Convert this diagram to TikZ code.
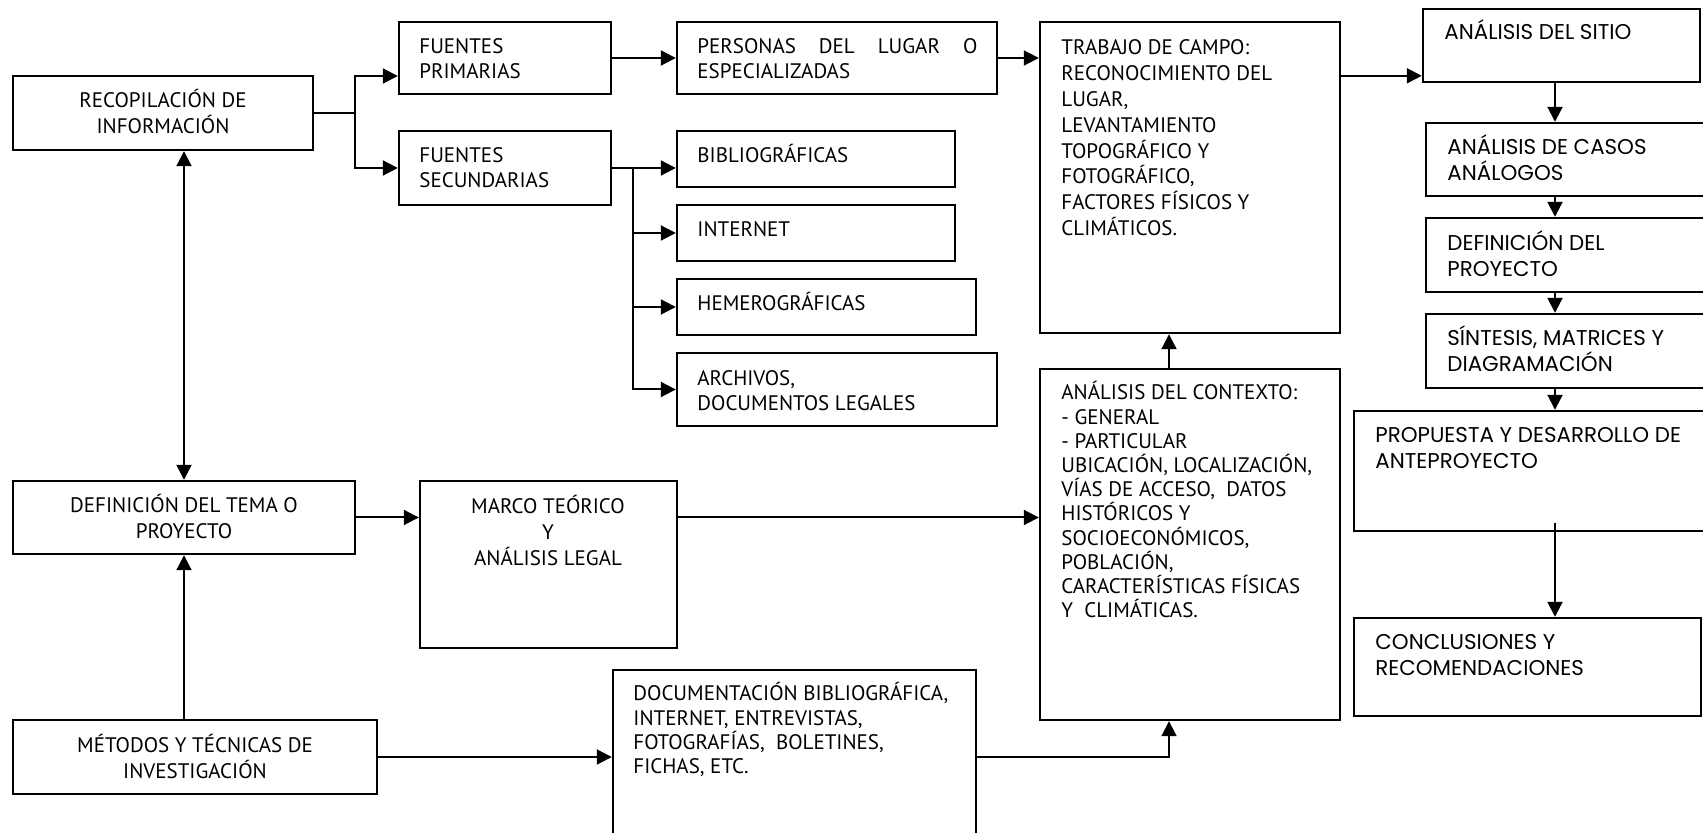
\documentclass[tikz,border=0pt]{standalone}
\usepackage{fontspec}
\setmainfont{PT Sans}
\newfontfamily\geo{Poppins}
\usetikzlibrary{arrows.meta,fit}
\newcommand{\mystrut}{\rule{0pt}{11pt}}
\begin{document}
\begin{tikzpicture}[x=0.5pt,y=-0.5pt,
  box/.style={draw, line width=1.2pt, inner sep=0pt},
  ln/.style={line width=1pt},
  arr/.style={line width=1pt, -{Triangle[length=7.5pt,width=7.5pt]}},
  darr/.style={line width=1pt, {Triangle[length=7.5pt,width=7.5pt]}-{Triangle[length=7.5pt,width=7.5pt]}},
  txt/.style={inner sep=0pt, anchor=north west, align=left, font=\fontsize{10.5}{12.5}\selectfont},
  ctxt/.style={txt, anchor=north, align=center, font=\fontsize{10.5}{13}\selectfont},
  rtxt/.style={txt, font=\geo\fontsize{10.7}{13}\selectfont}]
\useasboundingbox (0,0) rectangle (1703,833);

% left column
\node[box, fit={(13,76) (313,150)}] (recop) {};
\node[ctxt] (recopt) at (163,85.5) {\mystrut RECOPILACIÓN DE\\INFORMACIÓN};
\node[box, fit={(13,481) (355,554)}] (deft) {};
\node[ctxt] (deftt) at (184,490.5) {\mystrut DEFINICIÓN DEL TEMA O\\PROYECTO};
\node[box, fit={(13,720) (377,794)}] (met) {};
\node[ctxt] (mett) at (195,730.5) {\mystrut MÉTODOS Y TÉCNICAS DE\\INVESTIGACIÓN};

% sources
\node[box, fit={(399,22) (611,94)}] (fp) {};
\node[txt] (fpt) at (419,31.5) {\mystrut FUENTES\\PRIMARIAS};
\node[box, fit={(399,131) (611,205)}] (fs) {};
\node[txt] (fst) at (419,140.5) {\mystrut FUENTES\\SECUNDARIAS};

\node[box, fit={(677,22) (997,94)}] (pers) {};
\node[txt] (perst) at (697,31.5) {\hbox to 140pt{\mystrut PERSONAS\hfill DEL\hfill LUGAR\hfill O}\\ESPECIALIZADAS};
\node[box, fit={(677,131) (955,187)}] (bib) {};
\node[txt] (bibt) at (697,140.5) {\mystrut BIBLIOGRÁFICAS};
\node[box, fit={(677,205) (955,261)}] (int) {};
\node[txt] (intt) at (697,214.5) {\mystrut INTERNET};
\node[box, fit={(677,279) (976,335)}] (hem) {};
\node[txt] (hemt) at (697,288.5) {\mystrut HEMEROGRÁFICAS};
\node[box, fit={(677,353) (997,426)}] (arch) {};
\node[txt] (archt) at (697,363.5) {\mystrut ARCHIVOS,\\DOCUMENTOS LEGALES};

% marco
\node[box, fit={(420,481) (677,648)}] (marco) {};
\node[ctxt, font=\fontsize{10.5}{12.8}\selectfont] (marcot) at (548,491.5) {\mystrut MARCO TEÓRICO\\Y\\ANÁLISIS LEGAL};

% documentation
\node[box, fit={(613,670) (976,850)}] (doc) {};
\node[txt, font=\fontsize{10.5}{12.1}\selectfont] (doct) at (633,678.5) {\mystrut DOCUMENTACIÓN BIBLIOGRÁFICA,\\INTERNET, ENTREVISTAS,\\FOTOGRAFÍAS,\ \ BOLETINES,\\FICHAS, ETC.};

% trabajo de campo and contexto
\node[box, fit={(1040,22) (1340,333)}] (trab) {};
\node[txt, font=\fontsize{10.5}{12.9}\selectfont] (trabt) at (1061,32.5) {\mystrut TRABAJO DE CAMPO:\\RECONOCIMIENTO DEL\\LUGAR,\\LEVANTAMIENTO\\TOPOGRÁFICO Y\\FOTOGRÁFICO,\\FACTORES FÍSICOS Y\\CLIMÁTICOS.};
\node[box, fit={(1040,369) (1340,720)}] (cont) {};
\node[txt, font=\fontsize{10.5}{12.1}\selectfont] (contt) at (1061,377.5) {\mystrut ANÁLISIS DEL CONTEXTO:\\- GENERAL\\- PARTICULAR\\UBICACIÓN, LOCALIZACIÓN,\\VÍAS DE ACCESO,\ \ DATOS\\HISTÓRICOS Y\\SOCIOECONÓMICOS,\\POBLACIÓN,\\CARACTERÍSTICAS FÍSICAS\\Y\ \ CLIMÁTICAS.};

% right column
\node[box, fit={(1423,9) (1700,82)}] (sitio) {};
\node[rtxt] (sitiot) at (1444,17.5) {\mystrut ANÁLISIS DEL SITIO};
\node[box, fit={(1426,123) (1710,196)}] (casos) {};
\node[rtxt] (casost) at (1447,132.5) {\mystrut ANÁLISIS DE CASOS\\ANÁLOGOS};
\node[box, fit={(1426,218) (1710,292)}] (defp) {};
\node[rtxt] (defpt) at (1447,228.5) {\mystrut DEFINICIÓN DEL\\PROYECTO};
\node[box, fit={(1426,314) (1710,388)}] (sint) {};
\node[rtxt] (sintt) at (1447,323.5) {\mystrut SÍNTESIS, MATRICES Y\\DIAGRAMACIÓN};
\node[box, fit={(1354,411) (1710,531)}] (prop) {};
\node[rtxt] (propt) at (1375,420.5) {\mystrut PROPUESTA Y DESARROLLO DE\\ANTEPROYECTO};
\node[box, fit={(1354,618) (1701,716)}] (concl) {};
\node[rtxt] (conclt) at (1375,627.5) {\mystrut CONCLUSIONES Y\\RECOMENDACIONES};

% connectors
\coordinate (j1) at (355,113);
\draw[ln] (recop.east) -- (j1);
\draw[arr] (j1) |- ([yshift=-9pt]fp.west);
\draw[arr] (j1) |- (fs.west);
\draw[arr] (fp.east) -- (pers.west);
\draw[arr] (pers.east) -- (pers.east -| trab.west);

\coordinate (j2) at (633,168);
\draw[ln] (fs.east) -- (j2);
\draw[arr] (j2) -- (j2 -| bib.west);
\draw[arr] (j2) |- (int.west);
\draw[arr] (j2) |- (hem.west);
\draw[arr] (j2) |- (arch.west);

\coordinate (t1) at ([yshift=-27.5pt]trab.north east);
\draw[arr] (t1) -- (t1 -| sitio.west);

\coordinate (xcol) at (1555,0);
\draw[arr] (sitio.south -| xcol) -- (casos.north -| xcol);
\draw[arr] (casos.south -| xcol) -- (defp.north -| xcol);
\draw[arr] (defp.south -| xcol) -- (sint.north -| xcol);
\draw[arr] (sint.south -| xcol) -- (prop.north -| xcol);
\coordinate (p1) at ([yshift=4.5pt]prop.south);
\draw[arr] (p1 -| xcol) -- (concl.north -| xcol);

\coordinate (xc) at (1169,0);
\draw[arr] (cont.north -| xc) -- (trab.south -| xc);
\draw[arr] (met.east -| doc.east) -| (cont.south -| xc);
\draw[arr] (met.east) -- (met.east -| doc.west);

\draw[arr] (met.north -| deft.south) -- (deft.south);
\draw[darr] (recop.south -| deft.north) -- (deft.north);
\draw[arr] (deft.east) -- (deft.east -| marco.west);
\draw[arr] (deft.east -| marco.east) -- (deft.east -| cont.west);
\end{tikzpicture}
\end{document}
